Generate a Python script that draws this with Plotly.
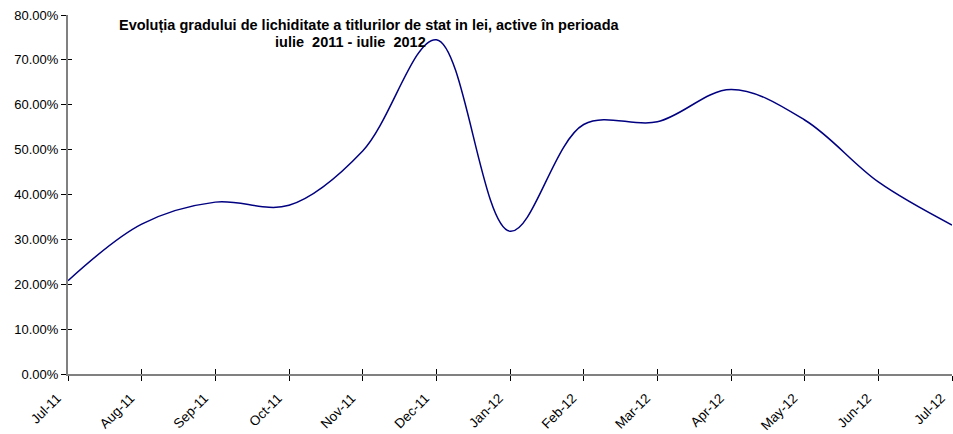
import plotly.graph_objects as go

months = ["Jul-11", "Aug-11", "Sep-11", "Oct-11", "Nov-11", "Dec-11", "Jan-12",
          "Feb-12", "Mar-12", "Apr-12", "May-12", "Jun-12", "Jul-12"]
liquidity = [0.208, 0.334, 0.383, 0.376, 0.497, 0.745, 0.318,
             0.556, 0.562, 0.634, 0.566, 0.428, 0.332]
y_ticks = [0, 0.1, 0.2, 0.3, 0.4, 0.5, 0.6, 0.7, 0.8]

title_line1 = "Evoluția gradului de lichiditate a titlurilor de stat in lei, active în perioada"
title_line2 = "iulie  2011 - iulie  2012"

xpos = list(range(len(months)))
FONT = "Liberation Sans, Arial, sans-serif"

fig = go.Figure()
fig.add_trace(go.Scatter(
    x=xpos, y=liquidity, mode="lines",
    line=dict(color="#000080", width=1.5, shape="spline", smoothing=1.0),
    hoverinfo="skip", showlegend=False, cliponaxis=False))
# invisible copy on overlay axes so the "inside" tick halves are drawn
fig.add_trace(go.Scatter(
    x=xpos, y=liquidity, mode="lines", xaxis="x2", yaxis="y2",
    line=dict(color="rgba(0,0,0,0)", width=0),
    hoverinfo="skip", showlegend=False))

axis_common = dict(showgrid=False, zeroline=False, automargin=False)
fig.update_layout(
    width=953, height=434,
    margin=dict(l=68, r=1, t=15, b=60),
    paper_bgcolor="white", plot_bgcolor="white",
    font=dict(family=FONT, size=13, color="black"),
    xaxis=dict(range=[0, len(months) - 1], tickmode="array", tickvals=xpos,
               ticktext=months, tickangle=-45, ticks="outside", ticklen=5,
               tickcolor="black", tickwidth=1, showline=True,
               linecolor="#808080", linewidth=2, tickfont=dict(size=13.5),
               ticklabeloverflow="allow", ticklabelshift=-11,
               ticklabelstandoff=4, **axis_common),
    yaxis=dict(range=[0, 0.8], tickmode="array", tickvals=y_ticks,
               tickformat=".2%", ticks="outside", ticklen=5,
               tickcolor="black", tickwidth=1, showline=True,
               linecolor="#808080", linewidth=2, ticklabeloverflow="allow",
               **axis_common),
    xaxis2=dict(range=[0, len(months) - 1], overlaying="x", anchor="y2",
                side="bottom", tickmode="array", tickvals=xpos,
                showticklabels=False, ticks="inside", ticklen=5,
                tickcolor="black", tickwidth=1, showline=False, **axis_common),
    yaxis2=dict(range=[0, 0.8], overlaying="y", anchor="x2", side="left",
                tickmode="array", tickvals=y_ticks, showticklabels=False,
                ticks="inside", ticklen=4, tickcolor="black", tickwidth=1,
                showline=False, **axis_common),
    annotations=[
        dict(text="<b>" + title_line1 + "</b>", xref="paper", yref="paper",
             x=(369 - 68) / 884, y=1 - (25 - 15) / 359, xanchor="center",
             yanchor="middle", showarrow=False,
             font=dict(family=FONT, size=14.5, color="black")),
        dict(text="<b>" + title_line2 + "</b>", xref="paper", yref="paper",
             x=(350 - 68) / 884, y=1 - (42 - 15) / 359, xanchor="center",
             yanchor="middle", showarrow=False,
             font=dict(family=FONT, size=14.5, color="black")),
    ],
)

fig.write_html("out.html",
               config={"displayModeBar": False},
               post_script="document.body.style.margin='0';"
                           "document.body.style.overflow='hidden';")
